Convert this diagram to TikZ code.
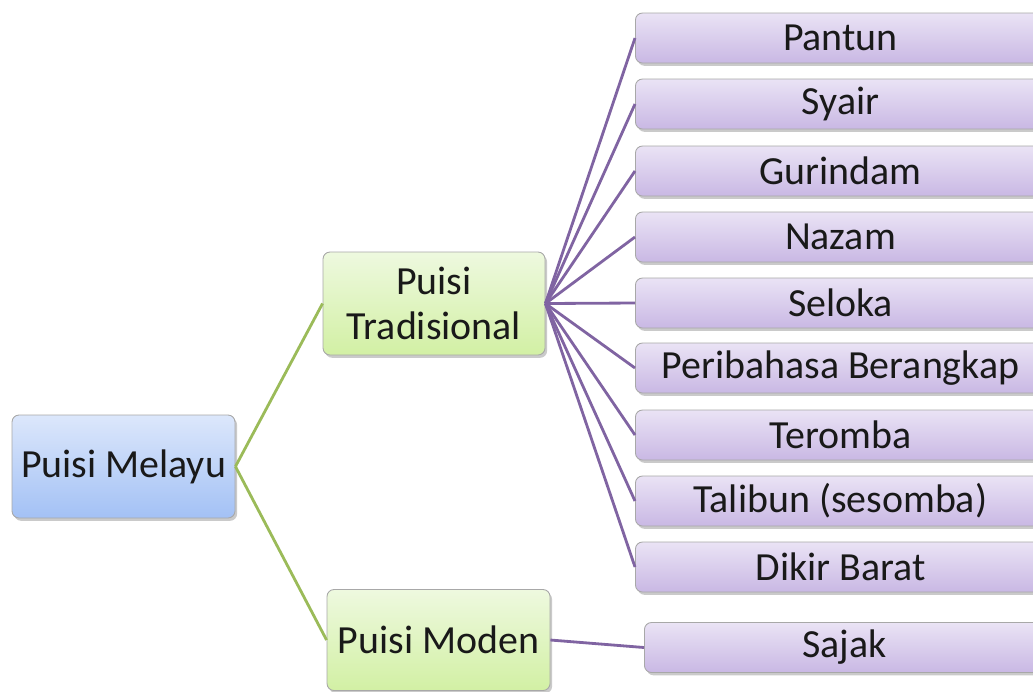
\documentclass[tikz,border=0pt]{standalone}
\usepackage{fontspec}
\setmainfont{Carlito}
\usetikzlibrary{shadows}
\definecolor{bluetop}{HTML}{DCE7FB}
\definecolor{bluebot}{HTML}{A3C1F5}
\definecolor{greentop}{HTML}{EEF9DF}
\definecolor{greenbot}{HTML}{D2F0A4}
\definecolor{purptop}{HTML}{EAE3F5}
\definecolor{purpbot}{HTML}{C9B8E4}
\definecolor{greenline}{HTML}{9BBB59}
\definecolor{purpline}{HTML}{8064A2}
\definecolor{boxedge}{HTML}{A8A8A8}
\tikzset{
  basebox/.style={draw=boxedge, line width=0.5pt, rounded corners=4pt, inner sep=0pt,
    font=\fontsize{22.7}{25.5}\selectfont, text=black!90, align=center,
    drop shadow={shadow xshift=1.2pt, shadow yshift=-1.6pt, opacity=0.35, fill=black!60}},
  bluebox/.style={basebox, top color=bluetop, bottom color=bluebot},
  greenbox/.style={basebox, top color=greentop, bottom color=greenbot},
  purpbox/.style={basebox, top color=purptop, bottom color=purpbot, anchor=west,
    minimum width=410*0.02cm, minimum height=50*0.02cm},
  gline/.style={draw=greenline, line width=1.6pt},
  pline/.style={draw=purpline, line width=1.6pt},
}
\begin{document}
\begin{tikzpicture}[x=0.02cm, y=-0.02cm]
\useasboundingbox (0,0) rectangle (1033,691);
\clip (0,0) rectangle (1033,691);
\node[bluebox, minimum width=223*0.02cm, minimum height=103*0.02cm] (pm) at (123.5,466.5) {Puisi Melayu};
\node[greenbox, minimum width=222*0.02cm, minimum height=103*0.02cm] (pt) at (434,303.5) {Puisi\\Tradisional};
\node[greenbox, minimum width=223*0.02cm, minimum height=101*0.02cm] (pmd) at (438.5,640) {Puisi Moden};
\foreach \n/\t/\y in {a/Pantun/38, b/Syair/104, c/Gurindam/171, d/Nazam/237, e/Seloka/303,
  f/Peribahasa Berangkap/368, g/Teromba/435, h/Talibun (sesomba)/501, i/Dikir Barat/567}{
  \node[purpbox] (\n) at (635,\y) {\t};
}
\node[purpbox, minimum width=400*0.02cm] (sj) at (644,647.5) {Sajak};
\draw[gline] (pm.east) -- (pt.west);
\draw[gline] (pm.east) -- (pmd.west);
\foreach \n in {a,b,c,d,e,f,g,h,i}{
  \draw[pline] (pt.east) -- (\n.west);
}
\draw[pline] (pmd.east) -- (sj.west);
\end{tikzpicture}
\end{document}
